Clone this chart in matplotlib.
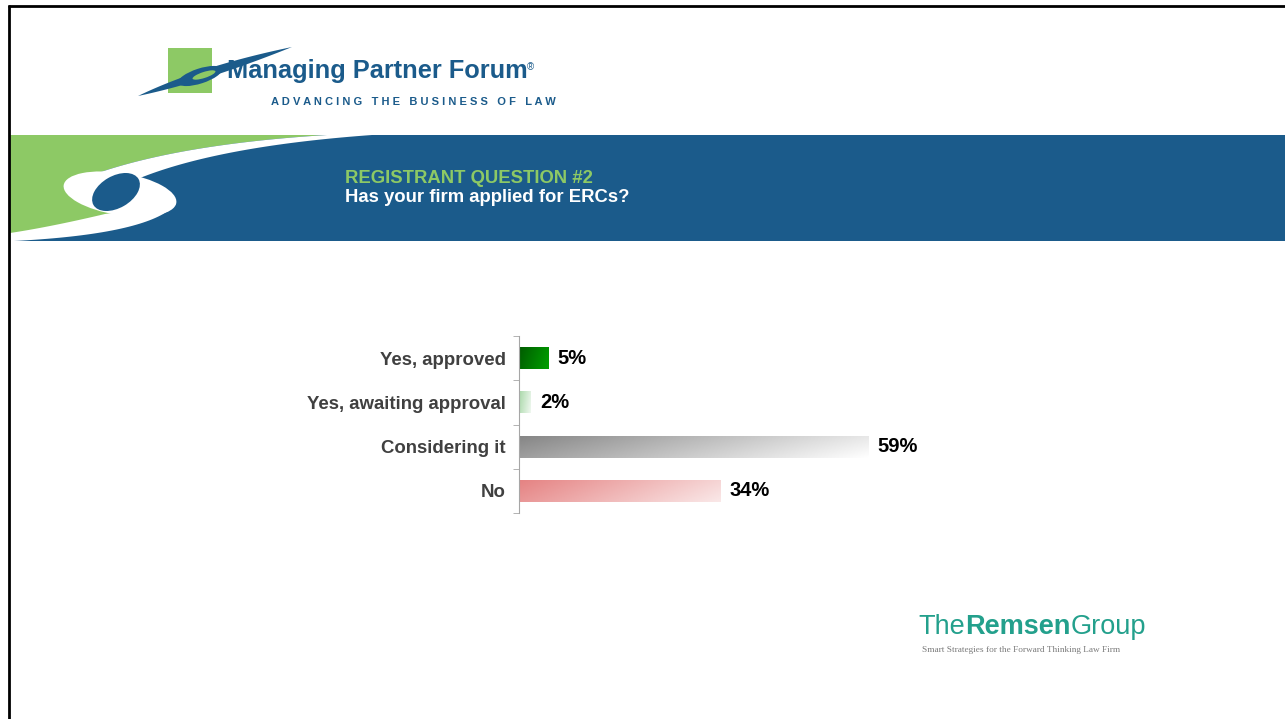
import numpy as np
import matplotlib.pyplot as plt
from matplotlib.patches import Rectangle, Polygon, Ellipse
from matplotlib.colors import LinearSegmentedColormap

plt.rcParams['font.family'] = ['Liberation Sans', 'DejaVu Sans']

# data
categories = ["Yes, approved", "Yes, awaiting approval", "Considering it", "No"]
values = [5, 2, 59, 34]
value_labels = ["5%", "2%", "59%", "34%"]
bar_colors = [("#005a00", "#00a000"), ("#a8d8a8", "#f0f8f0"),
              ("#858585", "#ffffff"), ("#e58282", "#fae8e8")]

BLUE = "#1b5b8b"
GREEN = "#8dc965"
TEAL = "#23a08c"


def quad(p0, p1, p2, n=40):
    t = np.linspace(0, 1, n)[:, None]
    p0, p1, p2 = np.array(p0), np.array(p1), np.array(p2)
    return (1 - t) ** 2 * p0 + 2 * (1 - t) * t * p1 + t ** 2 * p2


fig = plt.figure(figsize=(12.85, 7.19), dpi=100)
bg = fig.add_axes([0, 0, 1, 1])
bg.set_xlim(0, 1285)
bg.set_ylim(719, 0)
bg.axis("off")

# page border
bg.plot([8, 1285], [6, 6], color="black", lw=2, clip_on=False, solid_capstyle="butt")
bg.plot([9, 9], [5, 719], color="black", lw=2, clip_on=False, solid_capstyle="butt")

# header band with swoosh
bg.add_patch(Rectangle((10, 135), 1275, 106, color=BLUE, lw=0))
green_pts = np.vstack([[(10, 135)], quad((327, 135), (150, 146), (63, 187)),
                       [(110, 190), (130, 218)], quad((130, 218), (50, 229), (10, 234))])
bg.add_patch(Polygon(green_pts, color=GREEN, lw=0))
upper = np.vstack([quad((327, 135), (150, 146), (63, 187)),
                   quad((140, 178), (220, 146), (372, 135))])
bg.add_patch(Polygon(upper, color="white", lw=0))
lower = np.vstack([quad((105, 214), (50, 227), (10, 233)), [(10, 241)],
                   quad((14, 241), (150, 234), (176, 204))])
bg.add_patch(Polygon(lower, color="white", lw=0))
bg.add_patch(Ellipse((120, 194), 114, 42, angle=9, color="white", lw=0))
bg.add_patch(Ellipse((116, 192), 52, 32, angle=-30, color=BLUE, lw=0))

bg.text(345, 183, "REGISTRANT QUESTION #2", color=GREEN, fontsize=13.3,
        fontweight="bold", va="baseline")
bg.text(345, 202, "Has your firm applied for ERCs?", color="white", fontsize=13.3,
        fontweight="bold", va="baseline")

# Managing Partner Forum logo
bg.add_patch(Rectangle((168, 48), 44, 45, color=GREEN, lw=0))
sw = np.vstack([quad((138, 96), (205, 82), (292, 47)), quad((292, 47), (200, 66), (138, 96))])
bg.add_patch(Polygon(sw, color=BLUE, lw=0))
bg.add_patch(Ellipse((200, 76), 46, 15, angle=-18, color=BLUE, lw=0))
bg.add_patch(Ellipse((204, 75), 24, 6, angle=-18, color=GREEN, lw=0))
bg.text(227, 78, "Managing Partner Forum", color=BLUE, fontsize=18.3,
        fontweight="bold", va="baseline")
bg.text(527, 70, "®", color=BLUE, fontsize=7, va="baseline")
bg.text(271, 105, "A D V A N C I N G   T H E   B U S I N E S S   O F   L A W",
        color=BLUE, fontsize=8, fontweight="bold", va="baseline")

# Remsen Group logo
renderer = fig.canvas.get_renderer()
x0 = 918
for part, w in [("The", "normal"), ("Remsen", "bold"), ("Group", "normal")]:
    t = bg.text(x0, 634, part, color=TEAL, fontsize=19.5, va="baseline",
                fontweight=w, fontstretch="condensed")
    x0 += t.get_window_extent(renderer).width
bg.text(922, 652, "Smart Strategies for the Forward Thinking Law Firm",
        color="#7a7a7a", fontsize=6.7, va="baseline", family="Liberation Serif")

# chart
ax = fig.add_axes([519 / 1285, 1 - 513 / 719, 593 / 1285, 177 / 719])
ax.patch.set_alpha(0)
y = np.arange(len(categories))
bars = ax.barh(y, values, height=0.5, color="none", lw=0)
gx = np.linspace(0, 1, 200)[None, :]
gy = np.linspace(0, 1, 20)[:, None]
grad = 0.8 * gx + 0.2 * gy
for i, (b, v, (c0, c1)) in enumerate(zip(bars, values, bar_colors)):
    cmap = LinearSegmentedColormap.from_list("g%d" % i, [c0, c1])
    im = ax.imshow(grad, cmap=cmap, vmin=0, vmax=1, aspect="auto",
                   extent=(0, v, i + 0.25, i - 0.25), interpolation="bilinear")
    im.set_clip_path(b)
    ax.text(v + 1.5, i, value_labels[i], va="center", ha="left",
            fontsize=14.5, fontweight="bold", color="black")

ax.set_xlim(0, 100)
ax.set_ylim(3.5, -0.5)
for s in ["top", "right", "bottom"]:
    ax.spines[s].set_visible(False)
ax.spines["left"].set_color("#a6a6a6")
ax.set_xticks([])
ax.set_yticks(y)
ax.set_yticklabels(categories, fontsize=13.4, fontweight="bold", color="#404040")
ax.tick_params(axis="y", which="major", length=0, pad=9.5)
ax.set_yticks(np.arange(-0.5, len(categories)), minor=True)
ax.tick_params(axis="y", which="minor", length=4, color="#a6a6a6")

fig.savefig("out.png", dpi=100)
